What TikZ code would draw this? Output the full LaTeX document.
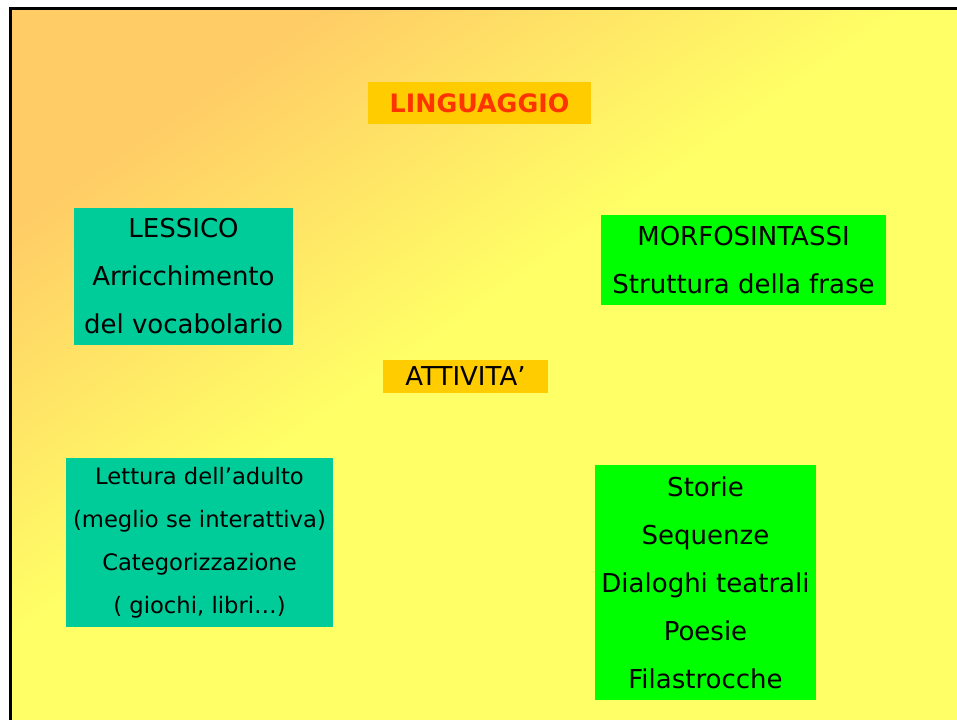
\documentclass[tikz,border=0pt]{standalone}
\usepackage{fontspec}
\setmainfont{DejaVu Sans}
\usepackage{xcolor}
\usepackage{tikz}
\usetikzlibrary{positioning, shapes, calc}

\definecolor{bgorange}{HTML}{FFCC66}
\definecolor{bgyellow}{HTML}{FFFF66}
\definecolor{tealbox}{HTML}{00CC99}
\definecolor{greenbox}{HTML}{00FF00}
\definecolor{goldbox}{HTML}{FFCC00}
\definecolor{titlered}{HTML}{FF3300}

\pgfdeclarehorizontalshading{slidebg}{100bp}{color(0bp)=(bgorange); color(26bp)=(bgorange); color(47bp)=(bgyellow); color(100bp)=(bgyellow)}

\begin{document}
\begin{tikzpicture}[x=0.75pt, y=-0.75pt,
	box/.style={inner sep=0pt, align=center, text=black},
	bigtext/.style={font=\fontsize{19.5}{36}\selectfont},
	smalltext/.style={font=\fontsize{17}{32.25}\selectfont}]
	
	%//slide background, 957 x 720 px
	\fill[white] (0,0) rectangle (957,720);
	\useasboundingbox (0,0) rectangle (957,720);
	\shade[shading=slidebg, shading angle=-55] (11,9) rectangle (957,720);
	\draw[line width=2.5pt] (10.5,720) -- (10.5,8.5) -- (957,8.5);
	
	%//titles
	\node [box, fill=goldbox, minimum width=167.25pt, minimum height=31.5pt,
		text=titlered, font=\bfseries\fontsize{19}{24}\selectfont] (ling) at (479.5,103) {LINGUAGGIO};
	\node [box, bigtext, fill=goldbox, minimum width=123.75pt, minimum height=24.75pt] (att) at (465.5,376.5) {ATTIVITA'};
	
	%//upper boxes
	\node [box, bigtext, fill=tealbox, minimum width=164.25pt, minimum height=102.75pt] (lessico) at (183.5,276.5)
		{LESSICO\\Arricchimento\\del vocabolario};
	\node [box, bigtext, fill=greenbox, minimum width=213.75pt, minimum height=67.5pt] (morfo) at (743.5,260)
		{MORFOSINTASSI\\Struttura della frase};
	
	%//lower boxes
	\node [box, smalltext, fill=tealbox, minimum width=200.25pt, minimum height=126.75pt] (lettura) at (199.5,542.5)
		{Lettura dell’adulto\\(meglio se interattiva)\\Categorizzazione\\( giochi, libri…)};
	\node [box, bigtext, fill=greenbox, minimum width=165.75pt, minimum height=176.25pt] (storie) at (705.5,582.5)
		{Storie\\Sequenze\\Dialoghi teatrali\\Poesie\\Filastrocche};
	
\end{tikzpicture}
\end{document}
